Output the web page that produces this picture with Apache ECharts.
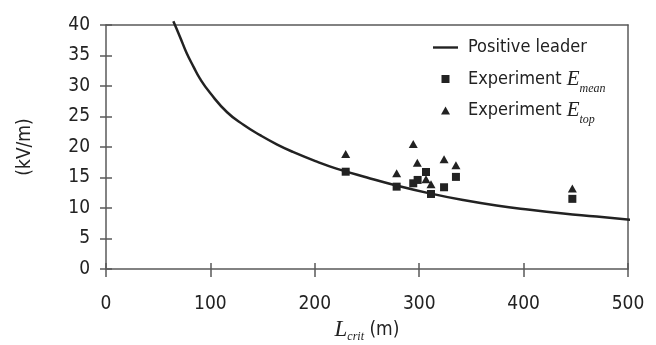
<!DOCTYPE html>
<html>
<head>
<meta charset="utf-8">
<script src="https://cdn.jsdelivr.net/npm/echarts@6/dist/echarts.min.js"></script>
<style>
  html, body { margin: 0; padding: 0; background: #fff; }
  #chart { width: 656px; height: 345px; }
</style>
</head>
<body>
<div id="chart"></div>
<script>
// positive leader model curve (L_crit in m, E in kV/m)
const leaderL = [64.5, 71, 77, 84, 90, 100, 116, 132, 148, 164, 179, 202, 220, 250, 278, 310, 342, 374, 406, 438, 470, 503];
const leaderE = [40.6, 38.0, 35.5, 33.1, 31.2, 28.8, 25.7, 23.6, 21.9, 20.4, 19.2, 17.6, 16.5, 15.0, 13.7, 12.4, 11.3, 10.4, 9.7, 9.1, 8.6, 8.05];

// experiments
const expL = [229.6, 278.4, 294.3, 298.5, 306.5, 311.3, 323.8, 335.2, 446.7];
const expMean = [15.95, 13.5, 14.05, 14.6, 15.9, 12.3, 13.4, 15.1, 11.5];
const expTopL = [229.6, 278.4, 294.3, 298.2, 306.5, 311.3, 323.8, 335.2, 446.7];
const expTop = [18.85, 15.7, 20.5, 17.4, 14.7, 13.9, 18.0, 17.0, 13.2];

const xTicks = [0, 100, 200, 300, 400, 500];
const yTicks = [0, 5, 10, 15, 20, 25, 30, 35, 40];

const ink = "#222";
const axisGray = "#5a5a5a";
const sans = "'Liberation Sans Narrow', 'DejaVu Sans Condensed', 'Roboto Condensed', sans-serif";
const serif = "'Liberation Serif', 'DejaVu Serif', serif";

const chart = echarts.init(document.getElementById("chart"));

const baseX = { type: "value", min: 0, max: 500, interval: 100, gridIndex: 0 };
const baseY = { type: "value", min: 0, max: 40, interval: 5, gridIndex: 0 };
const lineStyle = { color: axisGray, width: 1.5 };

const legendNames = {
  "Positive leader": "Positive leader",
  "Experiment Emean": "Experiment {i|E}{sub|mean}",
  "Experiment Etop": "Experiment {i|E}{sub|top}",
};

chart.setOption({
  animation: false,
  backgroundColor: "#fff",
  grid: { left: 106, right: 28, top: 25, bottom: 76, containLabel: false, outerBoundsMode: "none" },
  legend: {
    orient: "vertical",
    left: 433,
    top: 32,
    padding: 0,
    itemWidth: 25,
    itemHeight: 8,
    itemGap: 0.5,
    data: [
      { name: "Positive leader", icon: "path://M0,0H25V2.4H0Z" },
      { name: "Experiment Emean", icon: "path://M0,0H8V8H0Z" },
      { name: "Experiment Etop", icon: "path://M4.5,0L9,8H0Z" },
    ],
    formatter: (n) => legendNames[n],
    textStyle: {
      color: ink,
      fontFamily: sans,
      fontSize: 18,
      lineHeight: 31,
      padding: [0, 0, 0, 5],
      rich: {
        i: { fontFamily: serif, fontStyle: "italic", fontSize: 21, lineHeight: 31, color: ink },
        sub: { fontFamily: serif, fontStyle: "italic", fontSize: 12, lineHeight: 11, verticalAlign: "bottom", color: ink },
      },
    },
  },
  xAxis: [
    {
      ...baseX,
      position: "bottom",
      name: "{i|L}{sub|crit} (m)",
      nameLocation: "middle",
      nameGap: 48,
      nameMoveOverlap: false,
      nameTextStyle: {
        color: ink,
        fontFamily: sans,
        fontSize: 19,
        lineHeight: 26,
        rich: {
          i: { fontFamily: serif, fontStyle: "italic", fontSize: 23, lineHeight: 26, color: ink },
          sub: { fontFamily: serif, fontStyle: "italic", fontSize: 12, lineHeight: 11, verticalAlign: "bottom", color: ink },
        },
      },
      axisLine: { show: true, onZero: false, lineStyle },
      axisTick: { show: true, inside: false, length: 8, lineStyle },
      axisLabel: {
        color: ink, fontFamily: sans, fontSize: 19, margin: 26,
        formatter: (v) => (xTicks.includes(v) ? String(v) : ""),
      },
      splitLine: { show: false },
    },
    {
      ...baseX,
      position: "bottom",
      axisLine: { show: false },
      axisTick: { show: true, inside: true, length: 6, lineStyle },
      axisLabel: { show: false },
      splitLine: { show: false },
    },
    {
      ...baseX,
      position: "top",
      axisLine: { show: true, onZero: false, lineStyle },
      axisTick: { show: false },
      axisLabel: { show: false },
      splitLine: { show: false },
    },
  ],
  yAxis: [
    {
      ...baseY,
      position: "left",
      name: "(kV/m)",
      nameLocation: "middle",
      nameGap: 71,
      nameMoveOverlap: false,
      nameTextStyle: { color: ink, fontFamily: sans, fontSize: 19 },
      axisLine: { show: true, onZero: false, lineStyle },
      axisTick: { show: true, inside: false, length: 6, lineStyle },
      axisLabel: {
        color: ink, fontFamily: sans, fontSize: 19, margin: 16,
        padding: [0, 0, 7, 0],
        formatter: (v) => (yTicks.includes(v) ? String(v) : ""),
      },
      splitLine: { show: false },
    },
    {
      ...baseY,
      position: "left",
      axisLine: { show: false },
      axisTick: { show: true, inside: true, length: 6, lineStyle },
      axisLabel: { show: false },
      splitLine: { show: false },
    },
    {
      ...baseY,
      position: "right",
      axisLine: { show: true, onZero: false, lineStyle },
      axisTick: { show: false },
      axisLabel: { show: false },
      splitLine: { show: false },
    },
  ],
  series: [
    {
      name: "Positive leader",
      type: "line",
      xAxisIndex: 0,
      yAxisIndex: 0,
      data: leaderL.map((x, i) => [x, leaderE[i]]),
      smooth: 0.5,
      symbol: "none",
      clip: false,
      lineStyle: { color: ink, width: 2.5 },
      itemStyle: { color: ink },
      z: 3,
    },
    {
      name: "Experiment Emean",
      type: "scatter",
      xAxisIndex: 0,
      yAxisIndex: 0,
      data: expL.map((x, i) => [x, expMean[i]]),
      symbol: "rect",
      symbolSize: 8,
      itemStyle: { color: ink, opacity: 1 },
      z: 4,
    },
    {
      name: "Experiment Etop",
      type: "scatter",
      xAxisIndex: 0,
      yAxisIndex: 0,
      data: expTopL.map((x, i) => [x, expTop[i]]),
      symbol: "triangle",
      symbolSize: [9, 8],
      itemStyle: { color: ink, opacity: 1 },
      z: 4,
    },
  ],
});
</script>
</body>
</html>
